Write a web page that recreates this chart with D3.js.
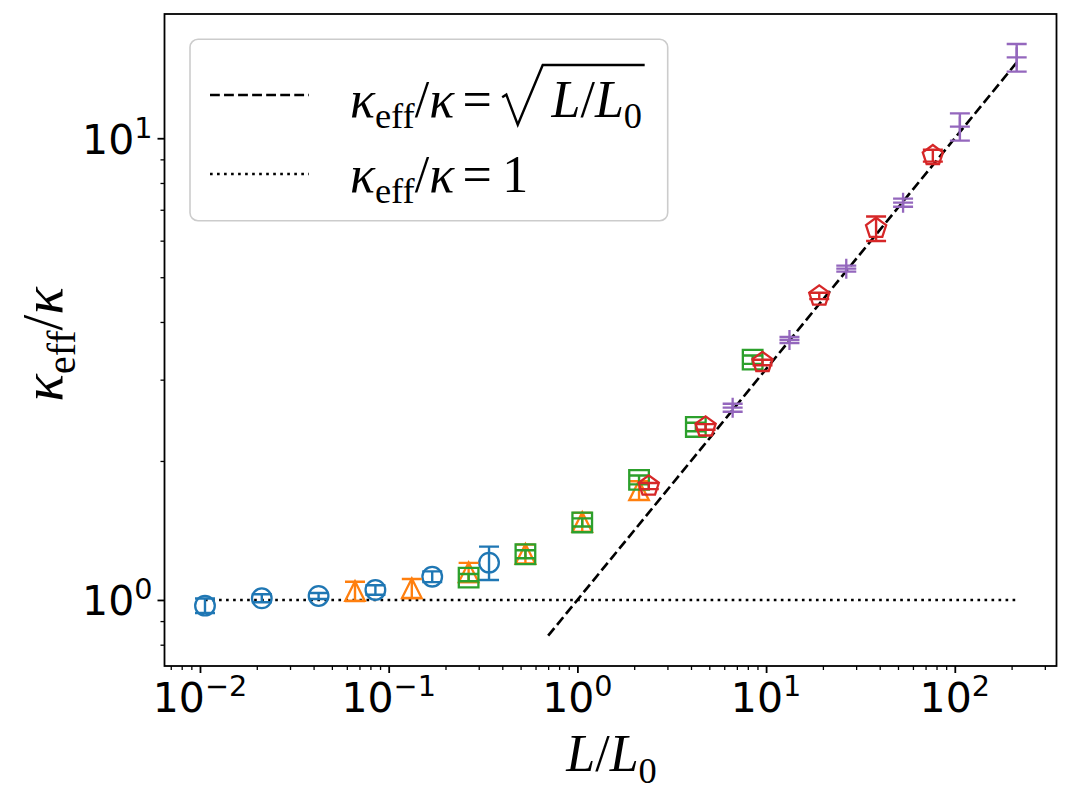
<!DOCTYPE html>
<html><head><meta charset="utf-8">
<script src="https://cdn.jsdelivr.net/npm/d3@7"></script>
<style>body{margin:0;background:#fff}svg{display:block}</style>
</head><body>
<svg id="c" width="1071" height="792"></svg>
<script>
// ---------- data ----------
const blueX = [0.01063, 0.02126, 0.04252, 0.08504, 0.1701, 0.3402];
const blueY = [0.972, 1.0085, 1.02, 1.051, 1.123, 1.2045];
const blueErr = [0.035, 0.02, 0.015, 0.025, 0.03, 0.1];

const orangeX = [0.0663, 0.1326, 0.2652, 0.5304, 1.061, 2.122];
const orangeY = [1.045, 1.06, 1.148, 1.258, 1.474, 1.727];
const orangeErr = [0.05, 0.05, 0.055, 0.06, 0.07, 0.08];

const greenX = [0.2652, 0.5304, 1.061, 2.122, 4.243, 8.487];
const greenY = [1.118, 1.256, 1.472, 1.82, 2.37, 3.315];
const greenErr = [0.02, 0.025, 0.03, 0.04, 0.05, 0.07];

const redX = [2.39, 4.78, 9.57, 19.13, 38.27, 76.5];
const redY = [1.765, 2.37, 3.269, 4.554, 6.38, 9.17];
const redErr = [0.027, 0.033, 0.045, 0.072, 0.39, 0.27];

const purpleX = [6.65, 13.3, 26.6, 53.2, 106.4, 212.8];
const purpleY = [2.609, 3.657, 5.219, 7.253, 10.6, 14.97];
const purpleErr = [0.052, 0.055, 0.078, 0.146, 0.72, 1.03];

const sqrtLineX = [0.7, 212.8];
const sqrtLineY = [0.8367, 14.59];
const oneLineX = [0.01063, 212.8];
const oneLineY = [1, 1];

const xLimits = [0.006486, 345.9];
const yLimits = [0.7194, 18.58];
const xMajor = [1e-2, 1e-1, 1, 10, 100];
const xMajorExp = ["\u22122", "\u22121", "0", "1", "2"];
const yMajor = [1, 10];
const yMajorExp = ["0", "1"];

// ---------- layout ----------
const P = {l: 164.5, r: 1056.5, t: 14, b: 666};
const svg = d3.select("#c");
const x = d3.scaleLog().domain(xLimits).range([P.l, P.r]);
const y = d3.scaleLog().domain(yLimits).range([P.b, P.t]);

function minorTicks(sc) {
  const [a, b] = sc.domain();
  const out = [];
  for (let e = Math.floor(Math.log10(a)); e <= Math.ceil(Math.log10(b)); e++) {
    for (let m = 2; m <= 9; m++) {
      const v = m * Math.pow(10, e);
      if (v >= a && v <= b) out.push(v);
    }
  }
  return out;
}

const axX = svg.append("g").attr("transform", `translate(0,${P.b})`)
  .call(d3.axisBottom(x).tickValues(xMajor).tickSize(7).tickFormat(""));
const axXm = svg.append("g").attr("transform", `translate(0,${P.b})`)
  .call(d3.axisBottom(x).tickValues(minorTicks(x)).tickSize(4).tickFormat(""));
const axY = svg.append("g").attr("transform", `translate(${P.l},0)`)
  .call(d3.axisLeft(y).tickValues(yMajor).tickSize(7).tickFormat(""));
const axYm = svg.append("g").attr("transform", `translate(${P.l},0)`)
  .call(d3.axisLeft(y).tickValues(minorTicks(y)).tickSize(4).tickFormat(""));
[axX, axXm, axY, axYm].forEach(g => g.select(".domain").remove());
[axX, axY].forEach(g => g.selectAll("line").attr("stroke", "#000").attr("stroke-width", 1.8));
[axXm, axYm].forEach(g => g.selectAll("line").attr("stroke", "#000").attr("stroke-width", 1.3));

const tickFont = "DejaVu Sans";
xMajor.forEach((v, i) => {
  const t = svg.append("text").attr("x", x(v)).attr("y", 711.7)
    .attr("text-anchor", "middle").attr("font-family", tickFont).attr("font-size", 41).attr("fill", "#000");
  t.append("tspan").text("10");
  t.append("tspan").attr("dy", -16).attr("font-size", 28.7).text(xMajorExp[i]);
});
yMajor.forEach((v, i) => {
  const t = svg.append("text").attr("x", 152.5).attr("y", y(v) + 15.3)
    .attr("text-anchor", "end").attr("font-family", tickFont).attr("font-size", 41).attr("fill", "#000");
  t.append("tspan").text("10");
  t.append("tspan").attr("dy", -16).attr("font-size", 28.7).text(yMajorExp[i]);
});

// ---------- plot area ----------
svg.append("clipPath").attr("id", "pc").append("rect")
  .attr("x", P.l).attr("y", P.t).attr("width", P.r - P.l).attr("height", P.b - P.t);
const plot = svg.append("g").attr("clip-path", "url(#pc)");

const LW = 2.65;
const DASH = `${3.7 * LW},${1.6 * LW}`;
const DOT = `${1 * LW},${1.65 * LW}`;

const line = d3.line().x(d => x(d[0])).y(d => y(d[1]));
plot.append("path").attr("d", line(d3.zip(oneLineX, oneLineY)))
  .attr("fill", "none").attr("stroke", "#000").attr("stroke-width", LW).attr("stroke-dasharray", DOT);
plot.append("path").attr("d", line(d3.zip(sqrtLineX, sqrtLineY)))
  .attr("fill", "none").attr("stroke", "#000").attr("stroke-width", LW).attr("stroke-dasharray", DASH);

const H = 9.8;
const markerPath = {
  circle: () => d3.symbol(d3.symbolCircle, Math.PI * H * H)(),
  square: () => `M${-H},${-H}H${H}V${H}H${-H}Z`,
  triangle: () => `M0,${-H}L${H},${H}L${-H},${H}Z`,
  pentagon: () => {
    const r = 10.6;
    return "M" + d3.range(5).map(k => {
      const a = (-90 + 72 * k) * Math.PI / 180;
      return [r * Math.cos(a), r * Math.sin(a)].join(",");
    }).join("L") + "Z";
  },
  plus: () => `M${-10},0H10M0,-10V10`
};

const series = [
  {xs: blueX, ys: blueY, es: blueErr, color: "#1f77b4", m: "circle"},
  {xs: orangeX, ys: orangeY, es: orangeErr, color: "#ff7f0e", m: "triangle"},
  {xs: greenX, ys: greenY, es: greenErr, color: "#2ca02c", m: "square"},
  {xs: redX, ys: redY, es: redErr, color: "#d62728", m: "pentagon"},
  {xs: purpleX, ys: purpleY, es: purpleErr, color: "#9467bd", m: "plus"}
];
const cap = 10;
series.forEach(s => {
  const g = plot.append("g");
  const pts = d3.range(s.xs.length).map(i => ({x: s.xs[i], y: s.ys[i], e: s.es[i]}));
  g.selectAll(".eb").data(pts).join("path")
    .attr("d", d => {
      const cx = x(d.x), y1 = y(d.y + d.e), y0 = y(d.y - d.e);
      return `M${cx},${y0}V${y1}M${cx - cap},${y1}H${cx + cap}M${cx - cap},${y0}H${cx + cap}`;
    })
    .attr("fill", "none").attr("stroke", s.color).attr("stroke-width", 2.4);
  g.selectAll(".mk").data(pts).join("path")
    .attr("transform", d => `translate(${x(d.x)},${y(d.y)})`)
    .attr("d", markerPath[s.m]())
    .attr("fill", "none").attr("stroke", s.color).attr("stroke-width", 2.3);
});

svg.append("rect").attr("x", P.l).attr("y", P.t).attr("width", P.r - P.l).attr("height", P.b - P.t)
  .attr("fill", "none").attr("stroke", "#000").attr("stroke-width", 1.8);

// ---------- math text helper ----------
const serif = "Liberation Serif";
function mathRow(g, pieces, size) {
  let cx = 0;
  const marks = {};
  pieces.forEach(p => {
    if (p.mark) { marks[p.mark] = cx; cx += (p.w || 0) * size; return; }
    const fs = p.sub ? size * 0.7 : size;
    const t = g.append("text").attr("x", cx).attr("y", p.sub ? size * 0.22 : 0)
      .attr("font-family", serif).attr("font-size", fs)
      .attr("font-style", p.it ? "italic" : "normal").attr("fill", "#000").text(p.t);
    cx += t.node().getComputedTextLength() + (p.sp || 0) * size;
  });
  return {width: cx, marks};
}
const kappaPieces = [
  {t: "\u03ba", it: true},
  {t: "eff", sub: true},
  {t: "/", sp: 0},
  {t: "\u03ba", it: true, sp: 0.16},
  {t: "=", sp: 0.2}
];

// ---------- legend ----------
const lg = svg.append("g");
lg.append("rect").attr("x", 190).attr("y", 39.3).attr("width", 477.7).attr("height", 181.4)
  .attr("rx", 8).attr("fill", "#fff").attr("fill-opacity", 0.8).attr("stroke", "#cccccc").attr("stroke-width", 1.6);
lg.append("line").attr("x1", 210).attr("x2", 309).attr("y1", 95).attr("y2", 95)
  .attr("stroke", "#000").attr("stroke-width", LW).attr("stroke-dasharray", DASH);
lg.append("line").attr("x1", 210).attr("x2", 309).attr("y1", 174).attr("y2", 174)
  .attr("stroke", "#000").attr("stroke-width", LW).attr("stroke-dasharray", DOT);

const LS = 52;
const t1 = lg.append("g").attr("transform", "translate(350,117)");
const r1 = mathRow(t1, kappaPieces.concat([
  {mark: "rad", w: 0.95},
  {t: "L", it: true},
  {t: "/"},
  {t: "L", it: true},
  {t: "0", sub: true, sp: 0.05}
]), LS);
{
  const x0 = r1.marks.rad;
  t1.append("path").attr("d",
    `M${x0},${-0.38 * LS}L${x0 + 0.08 * LS},${-0.43 * LS}L${x0 + 0.3 * LS},${0.15 * LS}` +
    `L${x0 + 0.78 * LS},${-1.0 * LS}H${r1.width}`)
    .attr("fill", "none").attr("stroke", "#000").attr("stroke-width", 2.4).attr("stroke-linejoin", "miter");
}
const t2 = lg.append("g").attr("transform", "translate(350,191.7)");
mathRow(t2, kappaPieces.concat([{t: "1"}]), LS);

// ---------- axis labels ----------
const xl = svg.append("g");
mathRow(xl, [{t: "L", it: true}, {t: "/"}, {t: "L", it: true}, {t: "0", sub: true}], 52);
{
  const bb = xl.node().getBBox();
  xl.attr("transform", `translate(${611 - bb.x - bb.width / 2},${758 - bb.y - bb.height / 2})`);
}
const ylOuter = svg.append("g");
const yl = ylOuter.append("g");
mathRow(yl, [{t: "\u03ba", it: true}, {t: "eff", sub: true}, {t: "/"}, {t: "\u03ba", it: true}], 57);
{
  const bb = yl.node().getBBox();
  yl.attr("transform", `translate(${-bb.x - bb.width / 2},${-bb.y - bb.height / 2})`);
  ylOuter.attr("transform", `translate(47.5,344) rotate(-90)`);
}
</script>
</body></html>
